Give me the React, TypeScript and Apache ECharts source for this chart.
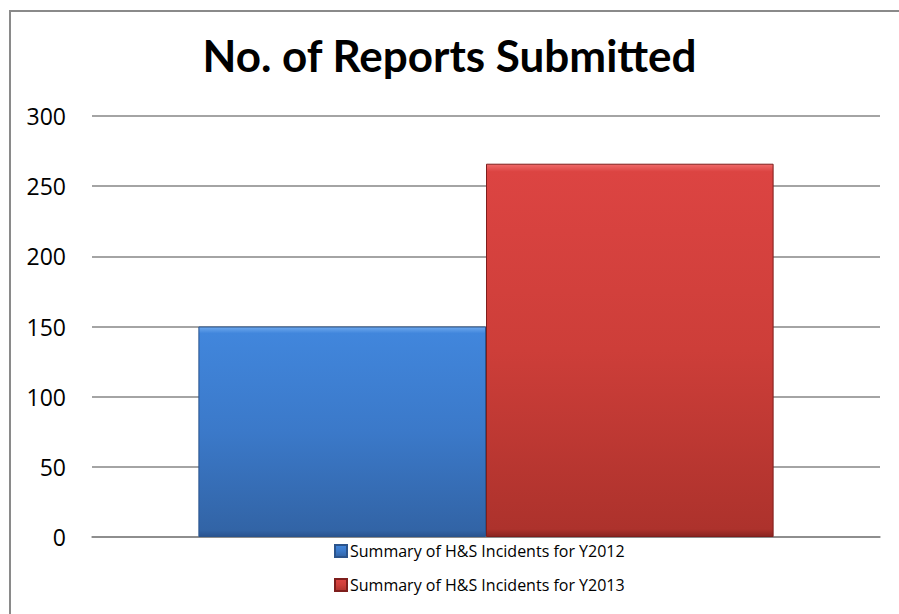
import React, { useEffect, useRef } from "react";
import * as echarts from "echarts";

const categories = [""];
const seriesNames = [
  "Summary of H&S Incidents for Y2012",
  "Summary of H&S Incidents for Y2013",
];
const values2012 = [150];
const values2013 = [266];
const yTicks = { min: 0, max: 300, interval: 50 };

const blueGrad = new echarts.graphic.LinearGradient(0, 0, 0, 1, [
  { offset: 0, color: "#6ea9ee" },
  { offset: 0.03, color: "#4186dc" },
  { offset: 0.5, color: "#3b79c9" },
  { offset: 0.97, color: "#3264a6" },
  { offset: 1, color: "#2a5490" },
]);
const redGrad = new echarts.graphic.LinearGradient(0, 0, 0, 1, [
  { offset: 0, color: "#f06a6a" },
  { offset: 0.02, color: "#dc4442" },
  { offset: 0.5, color: "#cd3e39" },
  { offset: 0.98, color: "#ad322c" },
  { offset: 1, color: "#8a2420" },
]);

export default function App() {
  const ref = useRef<HTMLDivElement>(null);
  useEffect(() => {
    document.body.style.margin = "0";
    const chart = echarts.init(ref.current!, null, { renderer: "svg" });
    chart.setOption({
      animation: false,
      backgroundColor: "#ffffff",
      title: {
        text: "No. of Reports Submitted",
        left: "center",
        top: 28,
        textStyle: {
          fontFamily: "Lato",
          fontWeight: "bold",
          fontSize: 44,
          color: "#000",
        },
      },
      graphic: [
        {
          type: "rect",
          shape: { x: 10, y: 11, width: 950, height: 700 },
          style: { fill: "none", stroke: "#8a8a8a", lineWidth: 2 },
          silent: true,
        },
      ],
      grid: { left: 92, right: 19, top: 116, bottom: 77, containLabel: false },
      legend: {
        orient: "vertical",
        left: 329,
        top: 537,
        itemWidth: 12,
        itemHeight: 12,
        itemGap: 16,
        icon: "rect",
        textStyle: {
          fontFamily: "Open Sans",
          fontSize: 16,
          color: "#000",
          lineHeight: 18,
          padding: [0, 0, 0, -2],
        },
        data: seriesNames,
      },
      xAxis: {
        type: "category",
        data: categories,
        axisLine: { show: true, lineStyle: { color: "#868686", width: 1.5 } },
        axisTick: { show: false },
        axisLabel: { show: false },
      },
      yAxis: {
        type: "value",
        min: yTicks.min,
        max: yTicks.max,
        interval: yTicks.interval,
        axisLine: { show: false },
        axisTick: { show: false },
        axisLabel: {
          fontFamily: "Open Sans",
          fontSize: 23,
          color: "#000",
          margin: 26,
        },
        splitLine: { lineStyle: { color: "#868686", width: 1.5 } },
      },
      series: [
        {
          name: seriesNames[0],
          type: "bar",
          data: values2012,
          barGap: "0%",
          barCategoryGap: "27%",
          itemStyle: { color: blueGrad, borderColor: "#2b548c", borderWidth: 1 },
        },
        {
          name: seriesNames[1],
          type: "bar",
          data: values2013,
          barGap: "0%",
          barCategoryGap: "27%",
          itemStyle: { color: redGrad, borderColor: "#7e1e1c", borderWidth: 1 },
        },
      ],
    });
    return () => chart.dispose();
  }, []);
  return <div ref={ref} style={{ width: 899, height: 614 }} />;
}
